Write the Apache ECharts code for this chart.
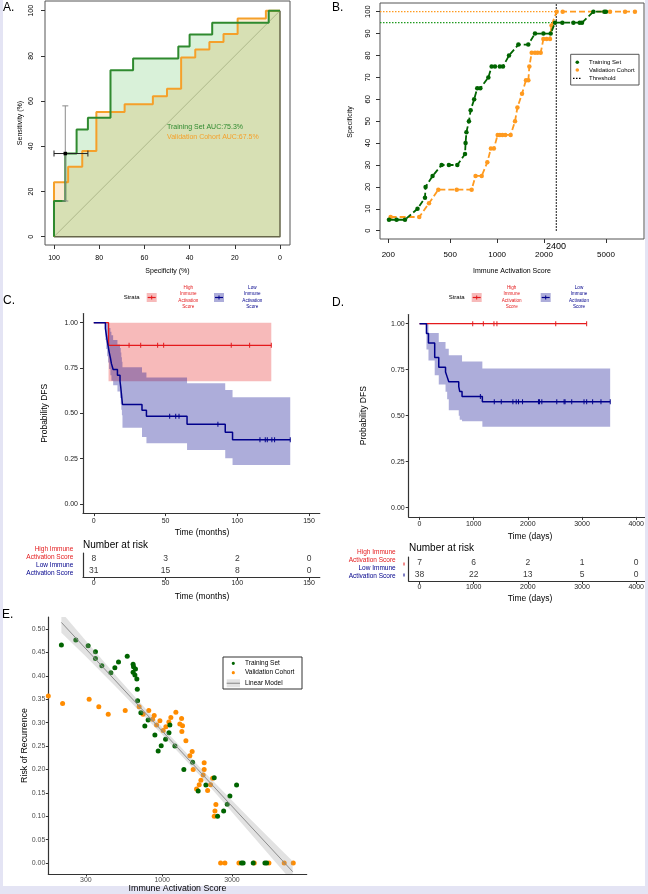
<!DOCTYPE html>
<html><head><meta charset="utf-8">
<script src="https://cdn.jsdelivr.net/npm/echarts@6/dist/echarts.min.js"></script>
<style>html,body{margin:0;padding:0;background:#fff}#c{width:648px;height:894px}</style>
</head><body><div id="c"></div>
<script>
const FONT = "'Liberation Sans', Arial, Helvetica, sans-serif";

// ---------- Panel A : ROC ----------
const rocTicks = [0, 20, 40, 60, 80, 100];
const rocTrainSpec = [100, 100, 95, 95, 90, 90, 85, 85, 75, 75, 65, 65, 45, 45, 40, 40, 30, 30, 5, 5, 0];
const rocTrainSens = [0, 15.8, 15.8, 36.8, 36.8, 47.4, 47.4, 52.6, 52.6, 73.7, 73.7, 78.9, 78.9, 84.2, 84.2, 89.5, 89.5, 94.7, 94.7, 100, 100];
const rocValSpec = [100, 100, 93.75, 93.75, 87.5, 87.5, 81.25, 81.25, 68.75, 68.75, 56.25, 56.25, 50, 50, 43.75, 43.75, 37.5, 37.5, 31.25, 31.25, 25, 25, 18.75, 18.75, 6.25, 6.25, 0];
const rocValSens = [0, 24.1, 24.1, 31.0, 31.0, 37.9, 37.9, 55.2, 55.2, 58.6, 58.6, 62.1, 62.1, 65.5, 65.5, 79.3, 79.3, 82.8, 82.8, 86.2, 86.2, 89.7, 89.7, 96.6, 96.6, 100, 100];
const rocDiagSpec = [100, 0];
const rocDiagSens = [0, 100];
const rocBestSpec = 95, rocBestSens = 36.8;
const rocSpecCI = [100, 85];
const rocSensCI = [15.8, 57.9];
const aucTexts = ['Training Set AUC:75.3%', 'Validation Cohort AUC:67.5%'];

// ---------- Panel B : specificity vs score ----------
const bXTicks = [200, 500, 1000, 2000, 5000];
const bYTicks = [0, 10, 20, 30, 40, 50, 60, 70, 80, 90, 100];
const bTrainScore = [202, 226, 256, 308, 344, 347, 385, 440, 490, 555, 622, 627, 635, 659, 676, 712, 745, 780, 878, 922, 969, 1040, 1090, 1192, 1369, 1585, 1750, 1982, 2208, 2355, 2624, 3087, 3390, 3509, 4150, 4880, 5000];
const bTrainSpec  = [5, 5, 5, 10, 15, 20, 25, 30, 30, 30, 35, 40, 45, 50, 55, 60, 65, 65, 70, 75, 75, 75, 75, 80, 85, 85, 90, 90, 90, 95, 95, 95, 95, 95, 100, 100, 100];
const bValScore = [207, 316, 365, 419, 550, 686, 727, 796, 865, 912, 953, 1008, 1041, 1081, 1129, 1221, 1303, 1350, 1445, 1532, 1587, 1610, 1667, 1750, 1820, 1905, 1982, 2080, 2185, 2236, 2412, 2636, 5309, 6631, 7674];
const bValSpec  = [6.25, 6.25, 12.5, 18.75, 18.75, 18.75, 25, 25, 31.25, 37.5, 37.5, 43.75, 43.75, 43.75, 43.75, 43.75, 50, 56.25, 62.5, 68.75, 68.75, 75, 81.25, 81.25, 81.25, 81.25, 87.5, 87.5, 87.5, 93.75, 100, 100, 100, 100, 100];
const bThreshold = 2400;
const bTrainSpecAtThr = 95;
const bValSpecAtThr = 100;

// ---------- Panel C : KM (months) ----------
const cXTicks = [0, 50, 100, 150];
const kmYTicks = [0, 0.25, 0.5, 0.75, 1];
const cHighTime = [0, 10.3, 123.7];
const cHighSurv = [1, 0.875, 0.875];
const cHighBandHi = [1, 1, 1];
const cHighBandLo = [1, 0.677, 0.677];
const cHighCensor = [24.6, 32.7, 44.5, 48.7, 95.8, 108.6, 123.7];
const cHighCensorSurv = [0.875, 0.875, 0.875, 0.875, 0.875, 0.875, 0.875];
const cLowTime   = [0, 8.1, 8.7, 9.3, 10, 10.7, 11.6, 12.3, 13.5, 16.5, 18.3, 18.8, 19.2, 19.6, 20.0, 33.6, 36.7, 65, 91.6, 96.7, 136.9];
const cLowSurv   = [1, 0.968, 0.935, 0.903, 0.871, 0.839, 0.806, 0.774, 0.742, 0.710, 0.677, 0.645, 0.613, 0.581, 0.549, 0.517, 0.484, 0.440, 0.396, 0.354, 0.354];
const cLowBandHi = [1, 1, 1, 1, 0.99, 0.97, 0.95, 0.93, 0.905, 0.88, 0.86, 0.835, 0.81, 0.785, 0.754, 0.725, 0.697, 0.666, 0.629, 0.589, 0.589];
const cLowBandLo = [1, 0.905, 0.855, 0.815, 0.78, 0.745, 0.71, 0.68, 0.655, 0.62, 0.585, 0.55, 0.52, 0.49, 0.42, 0.37, 0.335, 0.298, 0.252, 0.215, 0.215];
const cLowCensor = [52.9, 57.1, 59.4, 86.5, 115.8, 119.5, 120.9, 124.1, 126, 136.9];
const cLowCensorSurv = [0.484, 0.484, 0.484, 0.440, 0.354, 0.354, 0.354, 0.354, 0.354, 0.354];
const cRiskHigh = [8, 3, 2, 0];
const cRiskLow = [31, 15, 8, 0];

// ---------- Panel D : KM (days) ----------
const dXTicks = [0, 1000, 2000, 3000, 4000];
const dHighTime = [0, 3086];
const dHighSurv = [1, 1];
const dHighCensor = [982, 1178, 1374, 1429, 2515, 3086];
const dHighCensorSurv = [1, 1, 1, 1, 1, 1];
const dLowTime   = [0, 128, 165, 280, 355, 480, 510, 540, 724, 742, 785, 1160, 3520];
const dLowSurv   = [1, 0.947, 0.895, 0.816, 0.763, 0.737, 0.711, 0.684, 0.658, 0.632, 0.605, 0.576, 0.576];
const dLowBandHi = [1, 1, 0.949, 0.949, 0.90, 0.864, 0.864, 0.828, 0.828, 0.828, 0.795, 0.757, 0.757];
const dLowBandLo = [1, 0.86, 0.80, 0.72, 0.67, 0.63, 0.59, 0.53, 0.50, 0.478, 0.47, 0.44, 0.44];
const dLowCensor = [1123, 1380, 1509, 1724, 1785, 1828, 1902, 2196, 2215, 2258, 2534, 2669, 2687, 2810, 3037, 3086, 3196, 3350, 3521];
const dLowCensorSurv = [0.605, 0.576, 0.576, 0.576, 0.576, 0.576, 0.576, 0.576, 0.576, 0.576, 0.576, 0.576, 0.576, 0.576, 0.576, 0.576, 0.576, 0.576, 0.576];
const dRiskHigh = [7, 6, 2, 1, 0];
const dRiskLow = [38, 22, 13, 5, 0];

// ---------- Panel E : risk vs score ----------
const eXTicks = [300, 1000, 3000];
const eYTicks = [0, 0.05, 0.10, 0.15, 0.20, 0.25, 0.30, 0.35, 0.40, 0.45, 0.50];
const eTrainScore = [204, 256, 311, 349, 349, 386, 445, 474, 502, 576, 632, 636, 656, 632, 650, 670, 675, 678, 714, 760, 801, 891, 938, 984, 1054, 1112, 1128, 1221, 1406, 1614, 1762, 1990, 2270, 2393, 2633, 2787, 2905, 3228, 3490, 3580, 4197, 5047, 5186];
const eTrainRisk  = [0.466, 0.4765, 0.4644, 0.4516, 0.437, 0.4217, 0.4067, 0.4174, 0.4295, 0.4416, 0.4245, 0.4195, 0.4145, 0.4074, 0.4017, 0.3932, 0.371, 0.3469, 0.3212, 0.2927, 0.3056, 0.2735, 0.2393, 0.2507, 0.2642, 0.2785, 0.295, 0.25, 0.2, 0.215, 0.1538, 0.1667, 0.1823, 0.0997, 0.111, 0.1254, 0.143, 0.1667, 0, 0, 0, 0, 0];
const eValScore = [166, 208, 316, 368, 427, 558, 695, 740, 809, 859, 881, 915, 964, 1015, 1059, 1110, 1146, 1240, 1320, 1357, 1363, 1377, 1452, 1546, 1603, 1629, 1718, 1791, 1840, 1906, 1937, 1937, 2045, 2143, 2213, 2270, 2296, 2330, 2510, 2686, 3350, 4265, 5374, 6839, 7888];
const eValRisk  = [0.357, 0.341, 0.350, 0.334, 0.318, 0.326, 0.334, 0.318, 0.326, 0.307, 0.315, 0.295, 0.304, 0.283, 0.291, 0.301, 0.311, 0.322, 0.297, 0.309, 0.281, 0.293, 0.261, 0.229, 0.238, 0.200, 0.158, 0.167, 0.177, 0.188, 0.214, 0.200, 0.155, 0.167, 0.181, 0.100, 0.111, 0.125, 0, 0, 0, 0, 0, 0, 0];
const eLineScore = [204, 7816];
const eLineRisk = [0.514, -0.0185];
const eBandScore = [204, 300, 500, 1000, 2000, 4000, 7816];
const eBandHi = [0.536, 0.475, 0.395, 0.290, 0.190, 0.094, 0.0035];
const eBandLo = [0.492, 0.441, 0.371, 0.274, 0.172, 0.064, -0.0405];

// ---------- colours ----------
const GREEN_A = '#2f8a2f', ORANGE_A = '#f5a02a';
const DKGREEN = '#006400', DKORANGE = '#ff8c00';
const RED = '#e41a1c', NAVY = '#00008b';

// ---------- helpers ----------
const L = Math.log10;
const zip = (a, b) => a.map((v, i) => [v, b[i]]);
const zipLogX = (a, b) => a.map((v, i) => [L(v), b[i]]);
function stepBand(t, lo, hi) {
  const up = [], dn = [];
  for (let i = 0; i < t.length - 1; i++) { up.push([t[i], hi[i]], [t[i + 1], hi[i]]); }
  for (let i = t.length - 2; i >= 0; i--) { dn.push([t[i + 1], lo[i]], [t[i], lo[i]]); }
  return up.concat(dn);
}
function poly(idx, pts, fill, z) {
  return {
    type: 'custom', xAxisIndex: idx, yAxisIndex: idx, z: z, silent: true,
    data: [pts[0]],
    renderItem(params, api) {
      const cs = params.coordSys;
      return {
        type: 'polygon', shape: { points: pts.map(p => api.coord(p)) }, style: { fill: fill },
        clipPath: { type: 'rect', shape: { x: cs.x, y: cs.y, width: cs.width, height: cs.height } }
      };
    }
  };
}
function line(idx, data, color, width, z, extra) {
  return Object.assign({
    type: 'line', xAxisIndex: idx, yAxisIndex: idx, data: data, z: z || 3, silent: true,
    symbol: 'none', lineStyle: { color: color, width: width }, animation: false
  }, extra || {});
}
function pts(idx, data, color, size, symbol, z) {
  return {
    type: 'scatter', xAxisIndex: idx, yAxisIndex: idx, data: data, z: z || 4, silent: true,
    symbol: symbol || 'circle', symbolSize: size, itemStyle: { color: color, opacity: 1 }
  };
}
const plainFmt = v => String(v);
function vAxis(o) {
  return {
    type: 'value', gridIndex: o.grid, min: o.min, max: o.max, inverse: !!o.inverse,
    splitLine: { show: false },
    axisLine: { show: !!o.line, onZero: false, lineStyle: { color: o.lineColor || '#333', width: o.lineWidth || 1 } },
    axisTick: { show: true, customValues: o.ticks, length: o.tickLen || 3, lineStyle: { color: o.tickColor || '#333', width: 1 } },
    axisLabel: {
      show: true, customValues: o.ticks, formatter: o.fmt || plainFmt, fontSize: o.fs, color: o.color || '#000',
      fontFamily: FONT, margin: o.margin, rotate: o.rotate || 0, hideOverlap: false
    }
  };
}
function catAxis(grid) {
  return {
    type: 'category', gridIndex: grid, data: ['Low', 'High'],
    axisLine: { show: true, onZero: false, lineStyle: { color: '#333', width: 1.2 } },
    axisTick: { show: false }, axisLabel: { show: false }, splitLine: { show: false }
  };
}
function txt(x, y, text, fs, color, align, rot, z) {
  return {
    type: 'text', x: x, y: y, rotation: rot || 0, silent: true, z: z || 100,
    style: {
      text: text, fontSize: fs, fontFamily: FONT, fill: color || '#000',
      align: align || 'center', verticalAlign: 'middle', textAlign: align || 'center', textVerticalAlign: 'middle'
    }
  };
}
function rect(x, y, w, h, fill, stroke, z) {
  return { type: 'rect', silent: true, z: z || 100, shape: { x: x, y: y, width: w, height: h }, style: { fill: fill, stroke: stroke || null, lineWidth: stroke ? 1 : 0 } };
}
function seg(x1, y1, x2, y2, color, w, dash, z) {
  return { type: 'line', silent: true, z: z || 101, shape: { x1: x1, y1: y1, x2: x2, y2: y2 }, style: { stroke: color, lineWidth: w, lineDash: dash || null } };
}
function dot(cx, cy, r, color) {
  return { type: 'circle', silent: true, z: 101, shape: { cx: cx, cy: cy, r: r }, style: { fill: color } };
}
function kmKey(x, y, color, fill) {
  return [rect(x, y, 10, 9, fill), seg(x + 1, y + 4.5, x + 9, y + 4.5, color, 1.2), seg(x + 5, y + 2.5, x + 5, y + 6.5, color, 1)];
}
const logFmt = v => String(Math.round(Math.pow(10, v)));
const AX = { A: 0, B: 1, C: 2, CR: 3, D: 4, DR: 5, E: 6 };

// axis limits (layout)
const aXlim = [-4.42, 103.98], aYlim = [-3.67, 104.3];
const bXlim = [2.2477, 3.9433], bYlim = [-3.79, 103.97];
const eXlim = [L(166), L(9750)], eYlim = [-0.0235, 0.5256];

const grids = [
  { left: 45, top: 1, width: 245, height: 244, show: true, borderColor: '#555', borderWidth: 1, backgroundColor: 'transparent' },
  { left: 380, top: 3, width: 264, height: 236, show: true, borderColor: '#555', borderWidth: 1, backgroundColor: 'transparent' },
  { left: 83, top: 313.6, width: 236.8, height: 199.5 },
  { left: 83, top: 553, width: 236.8, height: 24 },
  { left: 408.7, top: 314.5, width: 238.3, height: 202.4 },
  { left: 408.7, top: 557, width: 238.3, height: 24 },
  { left: 48.3, top: 617, width: 258.4, height: 257 }
].map(g => Object.assign({ containLabel: false, outerBoundsMode: 'none' }, g));

const xAxes = [
  vAxis({ grid: 0, min: aXlim[0], max: aXlim[1], inverse: true, ticks: rocTicks, fs: 7, margin: 10, tickLen: 4 }),
  vAxis({ grid: 1, min: bXlim[0], max: bXlim[1], ticks: bXTicks.map(L), fmt: logFmt, fs: 8, margin: 12, tickLen: 4 }),
  vAxis({ grid: 2, min: -7.5, max: 157.5, ticks: cXTicks, fs: 7, margin: 4, line: true, lineWidth: 1.2, color: '#222' }),
  vAxis({ grid: 3, min: -7.5, max: 157.5, ticks: cXTicks, fs: 7, margin: 3, line: true, lineWidth: 1.2, color: '#222' }),
  vAxis({ grid: 4, min: -200, max: 4200, ticks: dXTicks, fs: 7, margin: 4, line: true, lineWidth: 1.2, color: '#222' }),
  vAxis({ grid: 5, min: -200, max: 4200, ticks: dXTicks, fs: 7, margin: 3, line: true, lineWidth: 1.2, color: '#222' }),
  vAxis({ grid: 6, min: eXlim[0], max: eXlim[1], ticks: eXTicks.map(L), fmt: logFmt, fs: 7, margin: 2.5, line: true, lineWidth: 1.2, color: '#4d4d4d', tickLen: 2.5 })
];
const yAxes = [
  vAxis({ grid: 0, min: aYlim[0], max: aYlim[1], ticks: rocTicks, fs: 7, margin: 10, rotate: 90, tickLen: 4 }),
  vAxis({ grid: 1, min: bYlim[0], max: bYlim[1], ticks: bYTicks, fs: 7.5, margin: 8, rotate: 90, tickLen: 4 }),
  vAxis({ grid: 2, min: -0.05, max: 1.05, ticks: kmYTicks, fmt: v => v.toFixed(2), fs: 7, margin: 5, line: true, lineWidth: 1.2, color: '#222' }),
  catAxis(3),
  vAxis({ grid: 4, min: -0.05, max: 1.05, ticks: kmYTicks, fmt: v => v.toFixed(2), fs: 7, margin: 4, line: true, lineWidth: 1.2, color: '#222' }),
  catAxis(5),
  vAxis({ grid: 6, min: eYlim[0], max: eYlim[1], ticks: eYTicks, fmt: v => v.toFixed(2), fs: 7, margin: 3, line: true, lineWidth: 1.2, color: '#4d4d4d', tickLen: 2.5 })
];

const series = [];
// ---- A ----
series.push(line(AX.A, zip(rocDiagSpec, rocDiagSens), '#c4c4c4', 1, 1));
series.push(poly(AX.A, zip(rocValSpec, rocValSens).concat([[rocDiagSpec[1], rocDiagSens[0]]]), 'rgba(245,160,40,0.2)', 2));
series.push(poly(AX.A, zip(rocTrainSpec, rocTrainSens).concat([[rocDiagSpec[1], rocDiagSens[0]]]), 'rgba(0,160,0,0.15)', 2));
series.push(line(AX.A, [[rocDiagSpec[1], rocDiagSens[1]], [rocDiagSpec[1], rocDiagSens[0]], [rocDiagSpec[0], rocDiagSens[0]]], '#66664a', 1.5, 3));
series.push(line(AX.A, zip(rocValSpec, rocValSens), ORANGE_A, 2, 4));
series.push(line(AX.A, zip(rocTrainSpec, rocTrainSens), GREEN_A, 2, 5));
series.push(line(AX.A, [[rocBestSpec, rocSensCI[0]], [rocBestSpec, rocSensCI[1]]], '#8a8a8a', 1, 6));
series.push(line(AX.A, [[rocSpecCI[0], rocBestSens], [rocSpecCI[1], rocBestSens]], '#222', 1, 6));
series.push(pts(AX.A, [[rocBestSpec, rocSensCI[0]], [rocBestSpec, rocSensCI[1]]], '#8a8a8a', [6, 1], 'rect', 7));
series.push(pts(AX.A, [[rocSpecCI[0], rocBestSens], [rocSpecCI[1], rocBestSens]], '#222', [1, 6], 'rect', 7));
series.push(pts(AX.A, [[rocBestSpec, rocBestSens]], '#000', 3.5, 'rect', 8));
// ---- B ----
const lt = L(bThreshold);
series.push(line(AX.B, [[lt, 0], [lt, bYlim[1]]], '#000', 1.2, 3, { lineStyle: { color: '#000', width: 1.2, type: [1.5, 1.5] } }));
series.push(line(AX.B, [[bXlim[0], bTrainSpecAtThr], [lt, bTrainSpecAtThr]], '#1f9a1f', 1.2, 3, { lineStyle: { color: '#1f9a1f', width: 1.2, type: [1.5, 1.5] } }));
series.push(line(AX.B, [[bXlim[0], bValSpecAtThr], [lt, bValSpecAtThr]], '#ff9a1f', 1.2, 3, { lineStyle: { color: '#ff9a1f', width: 1.2, type: [1.5, 1.5] } }));
series.push(line(AX.B, zipLogX(bValScore, bValSpec), '#ff9a1f', 1.8, 4, {
  symbol: 'circle', symbolSize: 4.5, showSymbol: true, itemStyle: { color: '#ff9a1f' },
  lineStyle: { color: '#ff9a1f', width: 1.8, type: [6, 3] }
}));
series.push(line(AX.B, zipLogX(bTrainScore, bTrainSpec), DKGREEN, 1.8, 5, {
  symbol: 'circle', symbolSize: 4.5, showSymbol: true, itemStyle: { color: DKGREEN },
  lineStyle: { color: DKGREEN, width: 1.8, type: [6, 3] }
}));
// ---- C ----
series.push(poly(AX.C, stepBand(cHighTime, cHighBandLo, cHighBandHi), 'rgba(228,26,28,0.3)', 1));
series.push(poly(AX.C, stepBand(cLowTime, cLowBandLo, cLowBandHi), 'rgba(0,0,139,0.32)', 2));
series.push(line(AX.C, zip(cHighTime, cHighSurv), RED, 1.3, 3, { step: 'end' }));
series.push(line(AX.C, zip(cLowTime, cLowSurv), NAVY, 1.5, 4, { step: 'end' }));
series.push(pts(AX.C, zip(cHighCensor, cHighCensorSurv), RED, [1, 5], 'rect', 5));
series.push(pts(AX.C, zip(cLowCensor, cLowCensorSurv), NAVY, [1, 5], 'rect', 5));
// ---- risk tables ----
function riskSeries(idx, times, high, low) {
  const data = times.map((t, i) => [t, 1, high[i]]).concat(times.map((t, i) => [t, 0, low[i]]));
  return {
    type: 'scatter', xAxisIndex: idx, yAxisIndex: idx, data: data, silent: true, z: 10,
    symbol: 'circle', symbolSize: 2,
    itemStyle: { color: 'rgba(0,0,0,0)' },
    labelLayout: { hideOverlap: false },
    label: { show: true, position: 'inside', formatter: p => String(p.value[2]), fontSize: 8.5, color: '#000', fontFamily: FONT }
  };
}
series.push(riskSeries(AX.CR, cXTicks, cRiskHigh, cRiskLow));
// ---- D ----
series.push(poly(AX.D, stepBand(dLowTime, dLowBandLo, dLowBandHi), 'rgba(0,0,139,0.32)', 2));
series.push(line(AX.D, zip(dHighTime, dHighSurv), RED, 1.3, 3, { step: 'end' }));
series.push(line(AX.D, zip(dLowTime, dLowSurv), NAVY, 1.5, 4, { step: 'end' }));
series.push(pts(AX.D, zip(dHighCensor, dHighCensorSurv), RED, [1, 5], 'rect', 5));
series.push(pts(AX.D, zip(dLowCensor, dLowCensorSurv), NAVY, [1, 5], 'rect', 5));
series.push(riskSeries(AX.DR, dXTicks, dRiskHigh, dRiskLow));
// ---- E ----
series.push(pts(AX.E, zipLogX(eValScore, eValRisk), DKORANGE, 5, 'circle', 3));
series.push(pts(AX.E, zipLogX(eTrainScore, eTrainRisk), DKGREEN, 5, 'circle', 4));
series.push(poly(AX.E, zipLogX(eBandScore, eBandHi).concat(zipLogX(eBandScore, eBandLo).reverse()), 'rgba(160,160,160,0.3)', 5));
series.push(line(AX.E, zipLogX(eLineScore, eLineRisk), '#8c8c8c', 1, 6));

// ---------- graphic (titles, legends, labels) ----------
const g = [];
g.push(rect(0, 0, 3, 894, '#e4e4f4', null, 0), rect(645, 0, 3, 894, '#e4e4f4', null, 0), rect(0, 886, 648, 8, '#e4e4f4', null, 0));
g.push(txt(3, 8, 'A.', 12, '#000', 'left'), txt(332, 8, 'B.', 12, '#000', 'left'),
  txt(3, 301, 'C.', 12, '#000', 'left'), txt(332, 303, 'D.', 12, '#000', 'left'), txt(2, 615, 'E.', 12, '#000', 'left'));
// A texts
g.push(txt(20, 123, 'Sensitivity (%)', 7, '#000', 'center', Math.PI / 2));
g.push(txt(167.5, 271, 'Specificity (%)', 7, '#000'));
g.push(txt(167, 127, aucTexts[0], 7, GREEN_A, 'left'), txt(167, 137.5, aucTexts[1], 7, ORANGE_A, 'left'));
// B texts
g.push(txt(350, 122, 'Specificity', 7, '#000', 'center', Math.PI / 2));
g.push(txt(512, 271, 'Immune Activation Score', 7, '#000'));
g.push(txt(556, 246.5, String(bThreshold), 9, '#000'));
g.push(rect(570.7, 54.3, 68.3, 30.7, '#fff', '#555', 99));
g.push(dot(577.3, 62.3, 1.8, DKGREEN), dot(577.3, 70, 1.8, '#ff9a1f'), seg(573, 78.3, 582, 78.3, '#000', 1.2, [1.5, 1.5]));
g.push(txt(589, 62.3, 'Training Set', 6, '#000', 'left'), txt(589, 70, 'Validation Cohort', 6, '#000', 'left'), txt(589, 78.3, 'Threshold', 6, '#000', 'left'));
// KM legends
function kmLegend(sx, hx, hc, bx, bc) {
  g.push(txt(sx, 297.5, 'Strata', 6, '#000'));
  kmKey(hx, 293, RED, 'rgba(228,26,28,0.3)').forEach(e => g.push(e));
  kmKey(bx, 293, NAVY, 'rgba(0,0,139,0.32)').forEach(e => g.push(e));
  ['High', 'Immune', 'Activation', 'Score'].forEach((s, i) => g.push(txt(hc, 287.5 + i * 6.5, s, 4.6, RED)));
  ['Low', 'Immune', 'Activation', 'Score'].forEach((s, i) => g.push(txt(bc, 287.5 + i * 6.5, s, 4.6, NAVY)));
}
kmLegend(131.7, 146.7, 188.3, 214, 252.3);
g.push(txt(45, 413.3, 'Probability DFS', 8.5, '#000', 'center', Math.PI / 2));
g.push(txt(202, 532.3, 'Time (months)', 8.5, '#000'));
g.push(txt(83, 545.7, 'Number at risk', 10, '#000', 'left'));
g.push(txt(73.3, 549.3, 'High Immune', 6.5, RED, 'right'), txt(73.3, 557.3, 'Activation Score', 6.5, RED, 'right'));
g.push(txt(73.3, 565.5, 'Low Immune', 6.5, NAVY, 'right'), txt(73.3, 573.3, 'Activation Score', 6.5, NAVY, 'right'));
g.push(txt(202, 596.5, 'Time (months)', 8.5, '#000'));
kmLegend(456.7, 471.7, 511.7, 540.7, 579);
g.push(txt(363.3, 415.7, 'Probability DFS', 8.5, '#000', 'center', Math.PI / 2));
g.push(txt(530, 536.7, 'Time (days)', 8.5, '#000'));
g.push(txt(409, 548.3, 'Number at risk', 10, '#000', 'left'));
g.push(txt(395.7, 552.7, 'High Immune', 6.5, RED, 'right'), txt(395.7, 560.5, 'Activation Score', 6.5, RED, 'right'));
g.push(txt(395.7, 568.7, 'Low Immune', 6.5, NAVY, 'right'), txt(395.7, 576.3, 'Activation Score', 6.5, NAVY, 'right'));
g.push(rect(403.5, 562.5, 1, 3, RED), rect(403.5, 573.5, 1, 3, NAVY));
g.push(txt(530, 598.5, 'Time (days)', 8.5, '#000'));
// E texts
g.push(txt(25, 745.5, 'Risk of Recurrence', 8.8, '#000', 'center', Math.PI / 2));
g.push(txt(177.5, 888.3, 'Immune Activation Score', 8.8, '#000'));
g.push(rect(223, 657, 79, 32, '#fff', '#333', 99));
g.push(dot(233.3, 663.3, 1.6, DKGREEN), dot(233.3, 672.7, 1.6, DKORANGE));
g.push(rect(226.7, 679.3, 13.3, 8, '#e3e3e3'), seg(226.7, 683.3, 240, 683.3, '#999', 1.3));
g.push(txt(245, 663.3, 'Training Set', 6.5, '#000', 'left'), txt(245, 672.7, 'Validation Cohort', 6.5, '#000', 'left'), txt(245, 683.3, 'Linear Model', 6.5, '#000', 'left'));

const chart = echarts.init(document.getElementById('c'), null, { renderer: 'canvas', width: 648, height: 894 });
chart.setOption({
  animation: false,
  backgroundColor: '#fff',
  textStyle: { fontFamily: FONT },
  grid: grids,
  xAxis: xAxes,
  yAxis: yAxes,
  series: series,
  graphic: { elements: g }
});
</script>
</body></html>
